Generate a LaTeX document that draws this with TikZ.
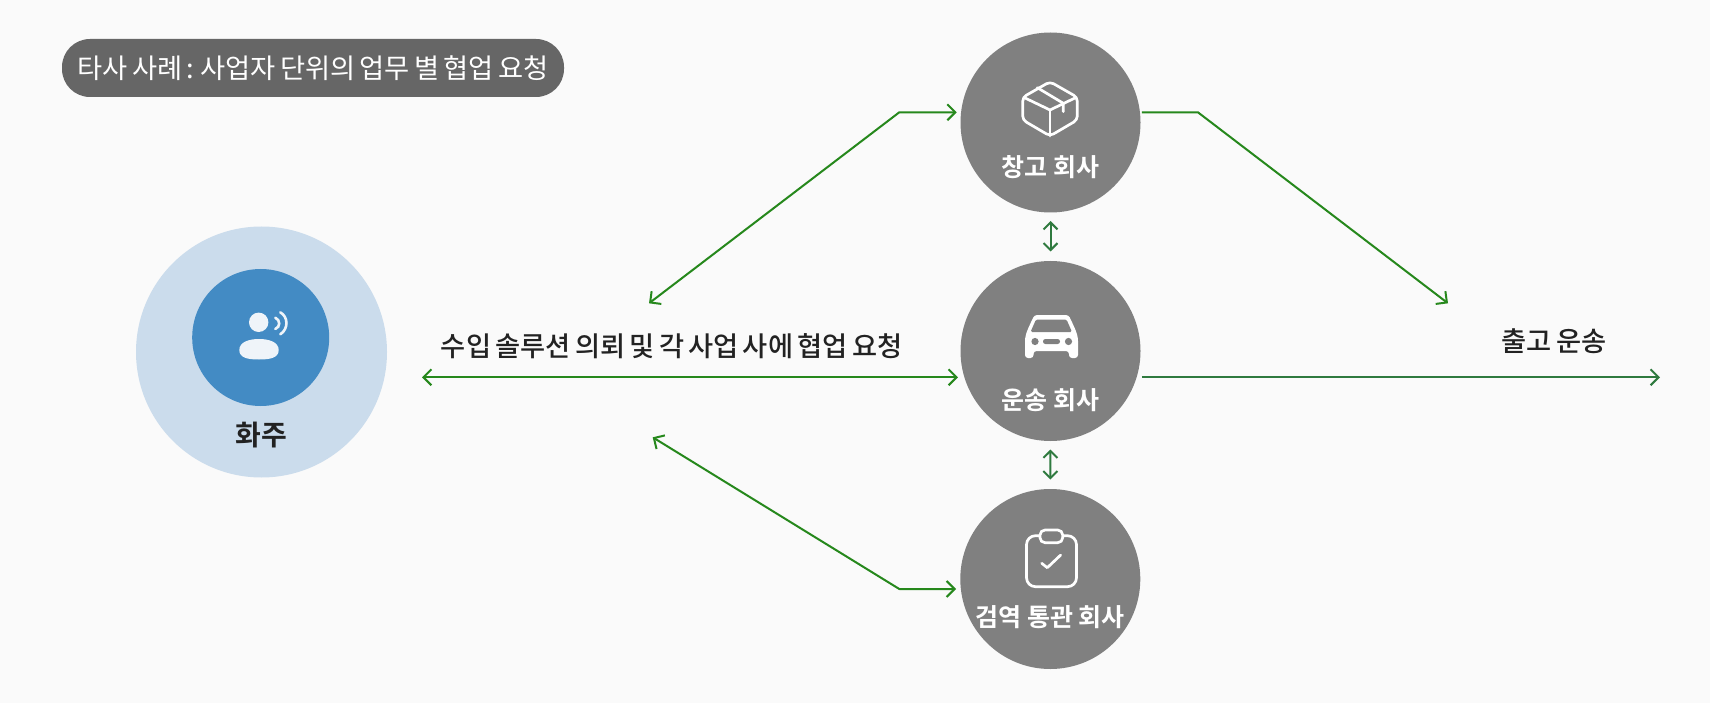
\documentclass[tikz,border=0pt]{standalone}
\usepackage{fontspec}
\setmainfont{Noto Sans CJK KR}[WordSpace=0.7]
\newfontfamily\krmedium{Noto Sans CJK KR Medium}[WordSpace=0.7]
\newfontfamily\krbold{Noto Sans CJK KR Bold}
\usetikzlibrary{arrows.meta, positioning}
\definecolor{bgcol}{HTML}{FAFAFA}
\definecolor{pillcol}{HTML}{666666}
\definecolor{circcol}{HTML}{808080}
\definecolor{linecol}{HTML}{26881C}
\definecolor{darkcol}{HTML}{2F7A3F}
\definecolor{outercol}{HTML}{CBDCEC}
\definecolor{bluecol}{HTML}{438BC4}
\definecolor{iconcol}{HTML}{EFF4F9}
\definecolor{textcol}{HTML}{222222}
\tikzset{
  % Set arrowhead
  >={Straight Barb[length=8pt, width=16pt]},
  % Company node
  cnode/.style={draw=none, fill=circcol, shape=circle, minimum size=180pt, inner
    sep=0pt, outer sep=0pt},
  % Shipper nodes
  onode/.style={cnode, fill=outercol, minimum size=251pt},
  bnode/.style={cnode, fill=bluecol, minimum size=137pt},
  % Labels
  clabel/.style={text=white, font=\fontsize{25}{30}\krbold, inner sep=0pt},
  tlabel/.style={text=textcol, font=\fontsize{27.3}{32}\krmedium, inner sep=0pt},
  % Title pill
  pill/.style={fill=pillcol, rounded corners=28pt, minimum width=502pt, minimum height=58pt,
    inner sep=0pt, text=white, font=\fontsize{27.3}{32}\selectfont},
  % Arrows
  q-/.style={draw=linecol, line width=2pt, line join=round},
  q->/.style={q-, ->},
  q<->/.style={q-, <->},
  q-dark/.style={q-, draw=darkcol, ->},
  % Short arrows between companies
  q-short/.style={q-, draw=darkcol, <->, >={Straight Barb[length=7pt, width=14pt]},
    shorten >=9.5pt, shorten <=8.5pt},
  % Icons
  icon/.style={draw=white, line width=2.7pt, line cap=round, line join=round},
}
\begin{document}
\begin{tikzpicture}[x=1pt, y=-1pt]
  \useasboundingbox (0,0) rectangle (1710,703);
  \fill[bgcol] (0,0) rectangle (1710,703);

  \node[pill] (title) at (313,68) {타사 사례 : 사업자 단위의 업무 별 협업 요청};

  % Shipper
  \node[onode] (outer) at (261.5,352) {};
  \node[bnode] (shipper) at (260.7,337.5) {};
  \node[tlabel, font=\fontsize{28}{32}\krbold] (shipperl) at (261,435) {화주};
  \fill[iconcol] (258.7,322.3) circle (9.7);
  \fill[iconcol] (239.3,350) .. controls (239.3,342) and (249,339) .. (259,339)
    .. controls (269,339) and (278.7,342) .. (278.7,350)
    .. controls (278.7,358) and (270,359.5) .. (259,359.5)
    .. controls (248,359.5) and (239.3,358) .. (239.3,350) -- cycle;
  \draw[iconcol, line width=2.6pt, line cap=round] (275.3,317.7) .. controls (280.5,320) and (280.5,327) .. (275.3,329);
  \draw[iconcol, line width=2.6pt, line cap=round] (280.3,312.3) .. controls (288.5,317) and (288.5,329) .. (280.3,334.3);

  % Companies
  \node[cnode] (ware) at (1050.5,122.5) {};
  \node[cnode] (trans) at (1050.5,351) {};
  \node[cnode] (cust) at (1050.3,579) {};
  \node[clabel] (warel) at (1050.3,167.5) {창고 회사};
  \node[clabel] (transl) at (1050.3,400) {운송 회사};
  \node[clabel] (custl) at (1050.3,617) {검역 통관 회사};

  % Box icon
  \draw[icon, rounded corners=4pt] (1050,81.7) -- (1077.3,97.3) -- (1077.3,120)
    -- (1050,136) -- (1022.7,120) -- (1022.7,97.3) -- cycle;
  \draw[icon] (1024,97.5) -- (1050,110) -- (1076,97.5);
  \draw[icon] (1050,110) -- (1050,136);
  \draw[icon] (1037.3,87.7) -- (1063.3,103.3) -- (1063.3,111.7);

  % Car icon
  \fill[white, rounded corners=3pt] (1025,358) -- (1025,338) -- (1027,331) -- (1032,320)
    .. controls (1034,316) and (1036,315) .. (1040,315) -- (1063,315)
    .. controls (1067,315) and (1069,316) .. (1071,320) -- (1076,331) -- (1078,338) -- (1078,358)
    -- (1069,358) -- (1069,351) -- (1033.5,351) -- (1033.5,358) -- cycle;
  \fill[circcol, rounded corners=1.5pt] (1030.5,332) -- (1036,319.5) -- (1066.5,319.5) -- (1072,332) -- cycle;
  \fill[circcol] (1035,341.5) circle (3.6) (1068.5,341.5) circle (3.6);
  \fill[circcol, rounded corners=2.4pt] (1043,339) rectangle (1060,344);

  % Clipboard icon
  \draw[icon, rounded corners=9pt] (1026.5,535.7) rectangle (1076.5,586.7);
  \draw[icon, fill=circcol, rounded corners=5pt] (1040,530) rectangle (1062.7,542.7);
  \draw[icon] (1041.7,563.3) -- (1047.3,567.7) -- (1060.7,555);

  % Connector ends
  \coordinate (in) at (422,377.3);
  \coordinate (transw) at (958,377.3);
  \coordinate (transe) at (1141.8,377.3);
  \coordinate (out) at (1660,377.3);
  \coordinate (warew) at (956.7,112.3);
  \coordinate (warek) at (899.3,112.3);
  \coordinate (inup) at (649,303.3);
  \coordinate (custw) at (956,589);
  \coordinate (custk) at (899.3,589);
  \coordinate (indn) at (652.7,437.3);
  \coordinate (waree) at (1141.8,112.3);
  \coordinate (warer) at (1197.9,112.3);
  \coordinate (outup) at (1448,303.3);

  \draw[q<->] (in) -- (transw);
  \draw[q-dark] (transe) -- (out);
  \draw[q<->] (inup) -- (warek) -- (warew);
  \draw[q<->] (indn) -- (custk) -- (custw);
  \draw[q->] (waree) -- (warer) -- (outup);
  \draw[q-short] (ware) -- (trans);
  \draw[q-short] (trans) -- (cust);

  \node[tlabel] (reql) at (671.6,346) {수입 솔루션 의뢰 및 각 사업 사에 협업 요청};
  \node[tlabel] (outl) at (1554,341.5) {출고 운송};
\end{tikzpicture}
\end{document}
